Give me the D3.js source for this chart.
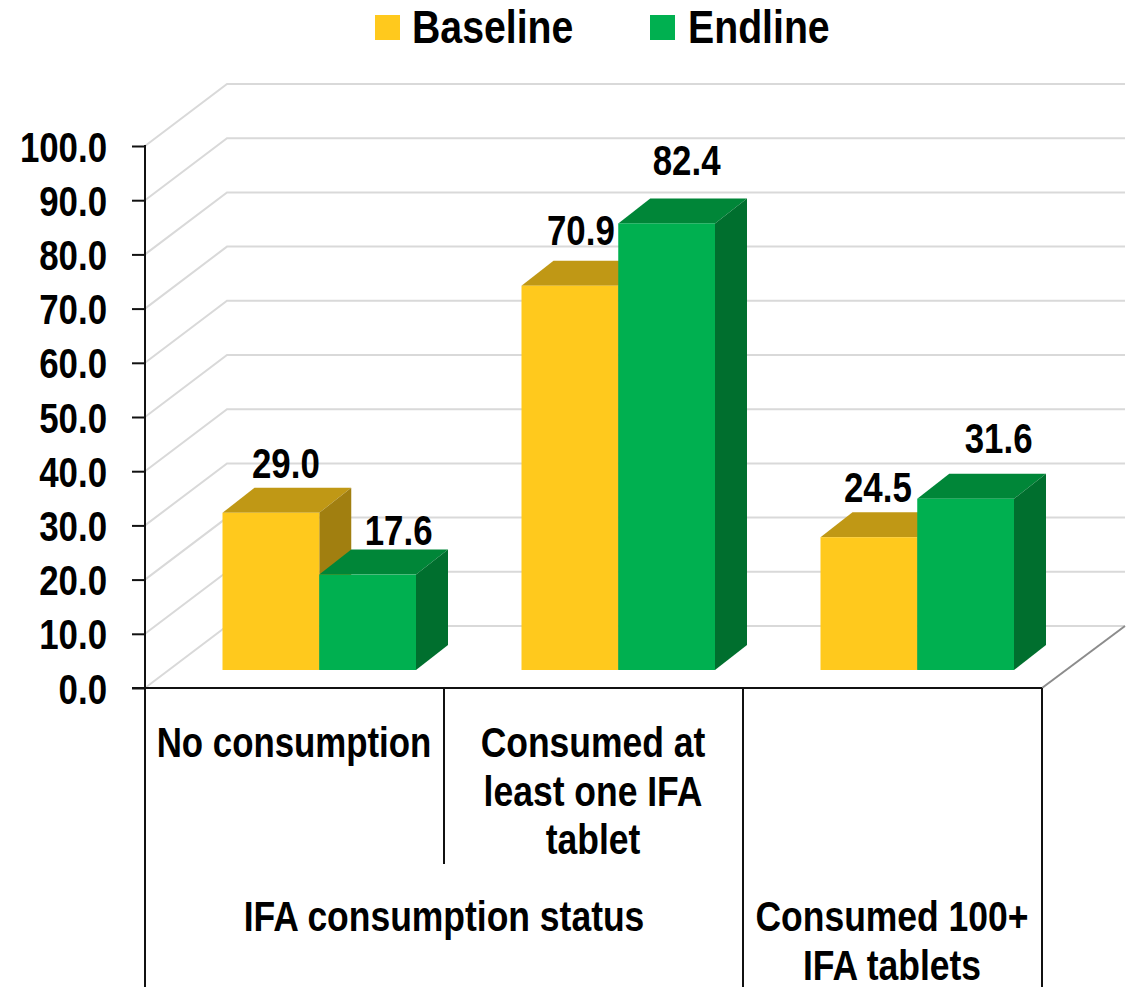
<!DOCTYPE html>
<html>
<head>
<meta charset="utf-8">
<script src="https://cdn.jsdelivr.net/npm/d3@7/dist/d3.min.js"></script>
<style>
html,body{margin:0;padding:0;background:#fff}
svg{display:block}
text{font-family:"Liberation Sans",Arial,sans-serif;font-weight:700;fill:#000}
</style>
</head>
<body>
<div id="chart"></div>
<script>
const categories = ["No consumption", "Consumed at least one IFA tablet", "Consumed 100+ IFA tablets"];
const categoryLines = [["No consumption"], ["Consumed at", "least one IFA", "tablet"], ["Consumed 100+", "IFA tablets"]];
const seriesNames = ["Baseline", "Endline"];
const baseline = [29.0, 70.9, 24.5];
const endline = [17.6, 82.4, 31.6];
const yTicks = [0, 10, 20, 30, 40, 50, 60, 70, 80, 90, 100];
const groupLabel = "IFA consumption status";

const faceColors = ["#FFC91D", "#00B050"];
const topColors = ["#C09815", "#008638"];
const sideColors = ["#A17F10", "#006F2E"];

// Label nudges relative to the back edge of each bar's top face
const labelNudge = [[[15, 25], [31, 20]], [[11, 31], [20, 38]], [[9, 25], [33, 36]]];

const W = 1129, H = 987;
const left = 145, floorY = 688, topY = 146, wallDx = 82, wallDy = 62, right = 1042;
const barDx = 32, barDy = 25, barLift = 18;
const condense = 0.81, labelSize = "43px";

const svg = d3.select("#chart").append("svg").attr("width", W).attr("height", H);
const y = d3.scaleLinear().domain([0, 100]).range([floorY, topY]);
const x = d3.scaleBand().domain(categories).range([left, right]);
const inner = d3.scaleBand().domain(seriesNames).range([77.5, 271]);

// Draws horizontally condensed bold text, standing in for a narrow typeface
function label(px, py, str, anchor = "middle", size = labelSize, squeeze = condense) {
  return svg.append("text")
    .attr("text-anchor", anchor)
    .attr("transform", `translate(${px},${py}) scale(${squeeze},1)`)
    .style("font-size", size)
    .text(str);
}

// Back wall and side wall gridlines
const grid = svg.append("g").attr("fill", "none").attr("stroke", "#D9D9D9").attr("stroke-width", 2);
grid.selectAll("path").data(yTicks).join("path")
  .attr("d", t => d3.line()([[left, y(t)], [left + wallDx, y(t) - wallDy], [right + wallDx + 1, y(t) - wallDy]]));

// Floor edge on the right
svg.append("line").attr("x1", right).attr("y1", floorY).attr("x2", right + wallDx + 1).attr("y2", floorY - wallDy)
  .attr("stroke", "#8C8C8C").attr("stroke-width", 2);

// Extruded bars
const g = svg.append("g");
[baseline, endline].forEach((vals, s) => {
  vals.forEach((v, c) => {
    const x0 = x(categories[c]) + inner(seriesNames[s]);
    const x1 = x0 + inner.bandwidth();
    const yb = y(0) - barLift, yt = y(v) - barLift;
    const poly = pts => pts.map(p => p.join(",")).join(" ");
    g.append("polygon").attr("points", poly([[x0, yt], [x0 + barDx, yt - barDy], [x1 + barDx, yt - barDy], [x1, yt]])).attr("fill", topColors[s]);
    g.append("polygon").attr("points", poly([[x1, yt], [x1 + barDx, yt - barDy], [x1 + barDx, yb - barDy], [x1, yb]])).attr("fill", sideColors[s]);
    g.append("rect").attr("x", x0).attr("y", yt).attr("width", x1 - x0).attr("height", yb - yt).attr("fill", faceColors[s]);
  });
});

// Axes
const axisColor = "#111";
svg.append("line").attr("x1", left).attr("x2", left).attr("y1", topY - 1).attr("y2", H).attr("stroke", axisColor).attr("stroke-width", 2);
svg.append("line").attr("x1", 132).attr("x2", right).attr("y1", floorY).attr("y2", floorY).attr("stroke", axisColor).attr("stroke-width", 2);
const yAxis = d3.axisLeft(y).tickValues(yTicks).tickSize(13).tickFormat(d3.format(".1f"));
const ya = svg.append("g").attr("transform", `translate(${left},0)`).call(yAxis);
ya.select(".domain").remove();
ya.selectAll("line").attr("stroke", axisColor).attr("stroke-width", 2);
ya.selectAll("text")
  .attr("x", 0).attr("dy", null)
  .attr("transform", `translate(-38,15) scale(${condense},1)`)
  .style("font-size", labelSize).attr("fill", "#000");

// Multi-level category dividers
const dividers = [[x(categories[1]), 864], [x(categories[2]), H], [right, H]];
svg.selectAll(".divider").data(dividers).join("line").attr("class", "divider")
  .attr("x1", d => d[0]).attr("x2", d => d[0]).attr("y1", floorY).attr("y2", d => d[1])
  .attr("stroke", axisColor).attr("stroke-width", 2);

// Value labels
[baseline, endline].forEach((vals, s) => {
  vals.forEach((v, c) => {
    const x0 = x(categories[c]) + inner(seriesNames[s]);
    const [dx, dy] = labelNudge[c][s];
    label(x0 + inner.bandwidth() / 2 + dx, y(v) - barLift - barDy - dy + 15, d3.format(".1f")(v));
  });
});

// Category labels
const labelCentres = [294, 593, 892];
const labelTops = [757, 757, 931];
const labelSqueeze = [0.81, 0.825, 0.825];
categoryLines.forEach((lines, c) => {
  lines.forEach((l, i) => label(labelCentres[c], labelTops[c] + i * 48.5, l, "middle", labelSize, labelSqueeze[c]));
});
label(444, 931, groupLabel, "middle", labelSize, 0.825);

// Legend
const legendX = [375, 650], legendTextX = [412, 688];
seriesNames.forEach((n, i) => {
  svg.append("rect").attr("x", legendX[i]).attr("y", 15).attr("width", 25).attr("height", 25).attr("fill", faceColors[i]);
  label(legendTextX[i], 43, n, "start", "47px", 0.835);
});
</script>
</body>
</html>
